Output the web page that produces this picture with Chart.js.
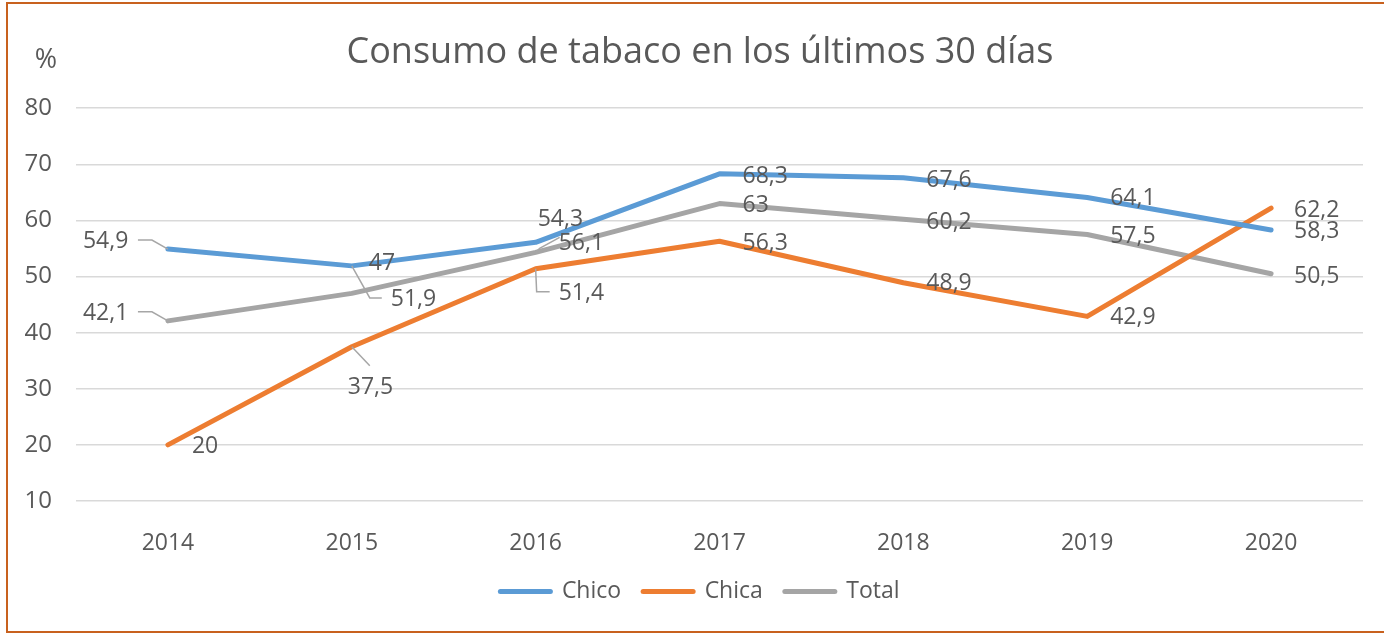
<!DOCTYPE html>
<html>
<head>
<meta charset="utf-8">
<script src="https://cdn.jsdelivr.net/npm/chart.js@4/dist/chart.umd.min.js"></script>
<style>
    body { margin: 0; background: #fff; overflow: hidden; }
    #wrap { position: relative; width: 1384px; height: 635px; overflow: hidden; }
    #frame {
        position: absolute; left: 6px; top: 2px; width: 1390px; height: 627px;
        border: 2px solid #C8611E; pointer-events: none;
    }
</style>
</head>
<body>
<div id="wrap">
    <canvas id="chart" width="1384" height="635"></canvas>
    <div id="frame"></div>
</div>
<script>
const years = ["2014", "2015", "2016", "2017", "2018", "2019", "2020"];
const chico = [54.9, 51.9, 56.1, 68.3, 67.6, 64.1, 58.3];
const chica = [20, 37.5, 51.4, 56.3, 48.9, 42.9, 62.2];
const total = [42.1, 47, 54.3, 63, 60.2, 57.5, 50.5];
const yTicks = [10, 20, 30, 40, 50, 60, 70, 80];

// where each value label sits next to its point: [dx, dy, leader points...]
const chicoLabelPos = [
    [-85, -8, [[-16, -9], [-30, -9]]],
    [39, 34, [[18, 32], [30, 32]]],
    [23, 1, null],
    [23, 3, null],
    [23, 3, null],
    [23, 1, null],
    [23, 1, null]
];
const chicaLabelPos = [
    [24, 2, null],
    [-4, 41, [[18, 19]]],
    [23, 25, [[1, 23], [14, 23]]],
    [23, 2, null],
    [23, 1, null],
    [23, 1, null],
    [23, 2, null]
];
const totalLabelPos = [
    [-85, -7, [[-16, -9], [-30, -9]]],
    [17, -30, null],
    [2, -33, [[4, -4], [24, -15]]],
    [23, 2, null],
    [23, 3, null],
    [23, 2, null],
    [23, 3, null]
];

const textColor = "#595959";
Chart.defaults.font.family = "'Open Sans', sans-serif";
Chart.defaults.color = textColor;

const valueLabels = {
    id: "valueLabels",
    afterDatasetsDraw(chart) {
        const ctx = chart.ctx;
        const placements = [chicoLabelPos, chicaLabelPos, totalLabelPos];
        ctx.save();
        ctx.font = "23px 'Open Sans', sans-serif";
        ctx.textBaseline = "middle";
        ctx.textAlign = "left";
        chart.data.datasets.forEach((ds, di) => {
            const meta = chart.getDatasetMeta(di);
            meta.data.forEach((pt, i) => {
                const [dx, dy, leader] = placements[di][i];
                if (leader) {
                    ctx.strokeStyle = "#A6A6A6";
                    ctx.lineWidth = 1.5;
                    ctx.beginPath();
                    ctx.moveTo(pt.x, pt.y);
                    leader.forEach(p => ctx.lineTo(pt.x + p[0], pt.y + p[1]));
                    ctx.stroke();
                }
                ctx.fillStyle = textColor;
                ctx.fillText(String(ds.data[i]).replace(".", ","), pt.x + dx, pt.y + dy);
            });
        });
        // unit mark above the y axis
        ctx.textAlign = "center";
        ctx.font = "27px 'Open Sans', sans-serif";
        ctx.fillText("%", chart.chartArea.left - 30, chart.chartArea.top - 48);
        ctx.restore();
    }
};

function series(label, data, color) {
    return {
        label: label,
        data: data,
        borderColor: color,
        backgroundColor: color,
        borderWidth: 5,
        borderCapStyle: "round",
        borderJoinStyle: "round",
        pointRadius: 0,
        tension: 0,
        yAxisID: "y"
    };
}

new Chart(document.getElementById("chart"), {
    type: "line",
    data: {
        labels: years,
        datasets: [
            series("Chico", chico, "#5B9BD5"),
            series("Chica", chica, "#ED7D31"),
            series("Total", total, "#A5A5A5")
        ]
    },
    options: {
        responsive: false,
        animation: false,
        layout: { padding: { left: 16, right: 0, top: 0, bottom: 22 } },
        scales: {
            x: {
                offset: true,
                grid: { display: false },
                border: { display: false },
                ticks: { padding: 21, font: { size: 23 }, color: textColor },
                afterFit(s) { s.height = 57; }
            },
            y: {
                min: 10,
                max: 80,
                afterBuildTicks(s) { s.ticks = yTicks.map(v => ({ value: v })); },
                grid: { color: "#D9D9D9", lineWidth: 1.5, drawTicks: false },
                border: { display: false },
                ticks: { padding: 24, font: { size: 24 }, color: textColor },
                afterFit(s) { s.width = 60; }
            },
            // empty spacer on the right side of the plot
            yRight: {
                position: "right",
                min: 10,
                max: 80,
                grid: { display: false },
                border: { display: false },
                ticks: { display: false },
                afterFit(s) { s.width = 21; }
            }
        },
        plugins: {
            title: {
                display: true,
                text: "Consumo de tabaco en los últimos 30 días",
                color: textColor,
                font: { size: 36, weight: "normal" },
                padding: { top: 31, bottom: 34 }
            },
            legend: {
                position: "bottom",
                labels: {
                    usePointStyle: true,
                    pointStyleWidth: 50,
                    padding: 22,
                    font: { size: 23 },
                    color: textColor,
                    generateLabels(chart) {
                        return chart.data.datasets.map((ds, i) => ({
                            text: ds.label,
                            fillStyle: ds.borderColor,
                            strokeStyle: ds.borderColor,
                            lineWidth: 5,
                            lineCap: "round",
                            pointStyle: "line",
                            hidden: false,
                            datasetIndex: i,
                            fontColor: textColor
                        }));
                    }
                }
            },
            tooltip: { enabled: false }
        }
    },
    plugins: [valueLabels]
});
</script>
</body>
</html>
